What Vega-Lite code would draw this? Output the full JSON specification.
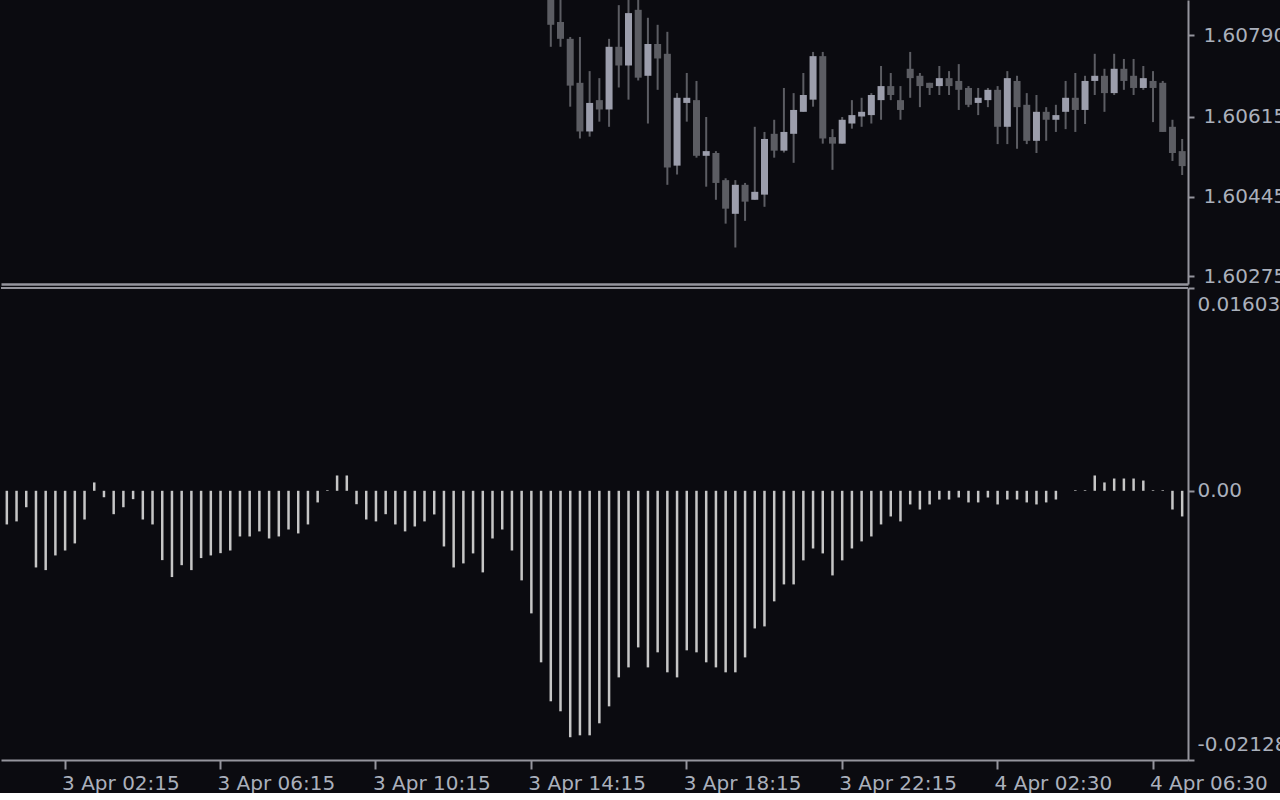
{
  "$schema": "https://vega.github.io/schema/vega-lite/v6.json",
  "background": "#0b0b10",
  "padding": 0,
  "spacing": 4,
  "bounds": "flush",
  "config": {
    "view": {"stroke": null},
    "font": "DejaVu Sans",
    "axis": {
      "labelFont": "DejaVu Sans",
      "labelFontSize": 20,
      "labelColor": "#aab0bc",
      "domainColor": "#95959d",
      "tickColor": "#95959d",
      "grid": false,
      "title": null,
      "labelOverlap": false,
      "labelBound": false
    }
  },
  "resolve": {"scale": {"x": "shared", "y": "independent"}, "axis": {"x": "independent", "y": "independent"}},
  "data": {"values": [
    {"t": "3 Apr 00:45", "m": -0.00266},
    {"t": "3 Apr 01:00", "m": -0.00242},
    {"t": "3 Apr 01:15", "m": -0.00130},
    {"t": "3 Apr 01:30", "m": -0.00606},
    {"t": "3 Apr 01:45", "m": -0.00627},
    {"t": "3 Apr 02:00", "m": -0.00511},
    {"t": "3 Apr 02:15", "m": -0.00472},
    {"t": "3 Apr 02:30", "m": -0.00416},
    {"t": "3 Apr 02:45", "m": -0.00227},
    {"t": "3 Apr 03:00", "m": 0.00066},
    {"t": "3 Apr 03:15", "m": -0.00051},
    {"t": "3 Apr 03:30", "m": -0.00185},
    {"t": "3 Apr 03:45", "m": -0.00130},
    {"t": "3 Apr 04:00", "m": -0.00066},
    {"t": "3 Apr 04:15", "m": -0.00227},
    {"t": "3 Apr 04:30", "m": -0.00266},
    {"t": "3 Apr 04:45", "m": -0.00548},
    {"t": "3 Apr 05:00", "m": -0.00682},
    {"t": "3 Apr 05:15", "m": -0.00588},
    {"t": "3 Apr 05:30", "m": -0.00627},
    {"t": "3 Apr 05:45", "m": -0.00532},
    {"t": "3 Apr 06:00", "m": -0.00511},
    {"t": "3 Apr 06:15", "m": -0.00493},
    {"t": "3 Apr 06:30", "m": -0.00472},
    {"t": "3 Apr 06:45", "m": -0.00361},
    {"t": "3 Apr 07:00", "m": -0.00361},
    {"t": "3 Apr 07:15", "m": -0.00321},
    {"t": "3 Apr 07:30", "m": -0.00377},
    {"t": "3 Apr 07:45", "m": -0.00361},
    {"t": "3 Apr 08:00", "m": -0.00306},
    {"t": "3 Apr 08:15", "m": -0.00337},
    {"t": "3 Apr 08:30", "m": -0.00266},
    {"t": "3 Apr 08:45", "m": -0.00092},
    {"t": "3 Apr 09:00", "m": 0.00005},
    {"t": "3 Apr 09:15", "m": 0.00121},
    {"t": "3 Apr 09:30", "m": 0.00121},
    {"t": "3 Apr 09:45", "m": -0.00106},
    {"t": "3 Apr 10:00", "m": -0.00227},
    {"t": "3 Apr 10:15", "m": -0.00242},
    {"t": "3 Apr 10:30", "m": -0.00185},
    {"t": "3 Apr 10:45", "m": -0.00266},
    {"t": "3 Apr 11:00", "m": -0.00321},
    {"t": "3 Apr 11:15", "m": -0.00282},
    {"t": "3 Apr 11:30", "m": -0.00242},
    {"t": "3 Apr 11:45", "m": -0.00187},
    {"t": "3 Apr 12:00", "m": -0.00440},
    {"t": "3 Apr 12:15", "m": -0.00606},
    {"t": "3 Apr 12:30", "m": -0.00574},
    {"t": "3 Apr 12:45", "m": -0.00495},
    {"t": "3 Apr 13:00", "m": -0.00645},
    {"t": "3 Apr 13:15", "m": -0.00377},
    {"t": "3 Apr 13:30", "m": -0.00306},
    {"t": "3 Apr 13:45", "m": -0.00472},
    {"t": "3 Apr 14:00", "m": -0.00708},
    {"t": "3 Apr 14:15", "m": -0.00969},
    {"t": "3 Apr 14:30", "m": -0.01356},
    {"t": "3 Apr 14:45", "o": 1.60880, "h": 1.60895, "l": 1.60765, "c": 1.60812, "m": -0.01664},
    {"t": "3 Apr 15:00", "o": 1.60818, "h": 1.60876, "l": 1.60765, "c": 1.60782, "m": -0.01743},
    {"t": "3 Apr 15:15", "o": 1.60782, "h": 1.60786, "l": 1.60637, "c": 1.60682, "m": -0.01948},
    {"t": "3 Apr 15:30", "o": 1.60688, "h": 1.60786, "l": 1.60569, "c": 1.60584, "m": -0.01933},
    {"t": "3 Apr 15:45", "o": 1.60584, "h": 1.60713, "l": 1.60573, "c": 1.60645, "m": -0.01933},
    {"t": "3 Apr 16:00", "o": 1.60651, "h": 1.60698, "l": 1.60605, "c": 1.60631, "m": -0.01838},
    {"t": "3 Apr 16:15", "o": 1.60631, "h": 1.60782, "l": 1.60594, "c": 1.60765, "m": -0.01704},
    {"t": "3 Apr 16:30", "o": 1.60765, "h": 1.60854, "l": 1.60678, "c": 1.60725, "m": -0.01475},
    {"t": "3 Apr 16:45", "o": 1.60725, "h": 1.60875, "l": 1.60652, "c": 1.60837, "m": -0.01396},
    {"t": "3 Apr 17:00", "o": 1.60844, "h": 1.60880, "l": 1.60693, "c": 1.60699, "m": -0.01238},
    {"t": "3 Apr 17:15", "o": 1.60703, "h": 1.60827, "l": 1.60601, "c": 1.60771, "m": -0.01396},
    {"t": "3 Apr 17:30", "o": 1.60771, "h": 1.60812, "l": 1.60673, "c": 1.60740, "m": -0.01277},
    {"t": "3 Apr 17:45", "o": 1.60750, "h": 1.60797, "l": 1.60470, "c": 1.60507, "m": -0.01435},
    {"t": "3 Apr 18:00", "o": 1.60511, "h": 1.60666, "l": 1.60492, "c": 1.60656, "m": -0.01475},
    {"t": "3 Apr 18:15", "o": 1.60645, "h": 1.60709, "l": 1.60605, "c": 1.60656, "m": -0.01261},
    {"t": "3 Apr 18:30", "o": 1.60651, "h": 1.60692, "l": 1.60528, "c": 1.60532, "m": -0.01277},
    {"t": "3 Apr 18:45", "o": 1.60532, "h": 1.60615, "l": 1.60466, "c": 1.60542, "m": -0.01356},
    {"t": "3 Apr 19:00", "o": 1.60538, "h": 1.60542, "l": 1.60438, "c": 1.60474, "m": -0.01396},
    {"t": "3 Apr 19:15", "o": 1.60480, "h": 1.60484, "l": 1.60387, "c": 1.60419, "m": -0.01435},
    {"t": "3 Apr 19:30", "o": 1.60408, "h": 1.60480, "l": 1.60336, "c": 1.60470, "m": -0.01435},
    {"t": "3 Apr 19:45", "o": 1.60470, "h": 1.60474, "l": 1.60393, "c": 1.60434, "m": -0.01317},
    {"t": "3 Apr 20:00", "o": 1.60438, "h": 1.60594, "l": 1.60438, "c": 1.60455, "m": -0.01088},
    {"t": "3 Apr 20:15", "o": 1.60449, "h": 1.60583, "l": 1.60423, "c": 1.60568, "m": -0.01072},
    {"t": "3 Apr 20:30", "o": 1.60579, "h": 1.60609, "l": 1.60528, "c": 1.60543, "m": -0.00874},
    {"t": "3 Apr 20:45", "o": 1.60543, "h": 1.60677, "l": 1.60539, "c": 1.60583, "m": -0.00740},
    {"t": "3 Apr 21:00", "o": 1.60579, "h": 1.60666, "l": 1.60517, "c": 1.60630, "m": -0.00740},
    {"t": "3 Apr 21:15", "o": 1.60626, "h": 1.60709, "l": 1.60626, "c": 1.60662, "m": -0.00550},
    {"t": "3 Apr 21:30", "o": 1.60652, "h": 1.60754, "l": 1.60637, "c": 1.60745, "m": -0.00456},
    {"t": "3 Apr 21:45", "o": 1.60745, "h": 1.60754, "l": 1.60558, "c": 1.60569, "m": -0.00495},
    {"t": "3 Apr 22:00", "o": 1.60572, "h": 1.60589, "l": 1.60502, "c": 1.60558, "m": -0.00669},
    {"t": "3 Apr 22:15", "o": 1.60558, "h": 1.60615, "l": 1.60558, "c": 1.60609, "m": -0.00550},
    {"t": "3 Apr 22:30", "o": 1.60601, "h": 1.60651, "l": 1.60590, "c": 1.60619, "m": -0.00456},
    {"t": "3 Apr 22:45", "o": 1.60616, "h": 1.60656, "l": 1.60594, "c": 1.60626, "m": -0.00400},
    {"t": "3 Apr 23:00", "o": 1.60619, "h": 1.60666, "l": 1.60601, "c": 1.60662, "m": -0.00361},
    {"t": "3 Apr 23:15", "o": 1.60651, "h": 1.60724, "l": 1.60609, "c": 1.60681, "m": -0.00266},
    {"t": "3 Apr 23:30", "o": 1.60681, "h": 1.60709, "l": 1.60651, "c": 1.60662, "m": -0.00203},
    {"t": "3 Apr 23:45", "o": 1.60651, "h": 1.60681, "l": 1.60609, "c": 1.60630, "m": -0.00242},
    {"t": "4 Apr 00:15", "o": 1.60718, "h": 1.60754, "l": 1.60656, "c": 1.60698, "m": -0.00108},
    {"t": "4 Apr 00:30", "o": 1.60703, "h": 1.60709, "l": 1.60636, "c": 1.60681, "m": -0.00148},
    {"t": "4 Apr 00:45", "o": 1.60688, "h": 1.60688, "l": 1.60662, "c": 1.60677, "m": -0.00108},
    {"t": "4 Apr 01:00", "o": 1.60681, "h": 1.60724, "l": 1.60662, "c": 1.60698, "m": -0.00069},
    {"t": "4 Apr 01:15", "o": 1.60698, "h": 1.60713, "l": 1.60662, "c": 1.60681, "m": -0.00069},
    {"t": "4 Apr 01:30", "o": 1.60692, "h": 1.60728, "l": 1.60630, "c": 1.60673, "m": -0.00053},
    {"t": "4 Apr 01:45", "o": 1.60677, "h": 1.60681, "l": 1.60636, "c": 1.60641, "m": -0.00092},
    {"t": "4 Apr 02:00", "o": 1.60645, "h": 1.60677, "l": 1.60619, "c": 1.60656, "m": -0.00092},
    {"t": "4 Apr 02:15", "o": 1.60651, "h": 1.60677, "l": 1.60636, "c": 1.60673, "m": -0.00053},
    {"t": "4 Apr 02:30", "o": 1.60673, "h": 1.60681, "l": 1.60557, "c": 1.60594, "m": -0.00108},
    {"t": "4 Apr 02:45", "o": 1.60594, "h": 1.60713, "l": 1.60557, "c": 1.60698, "m": -0.00069},
    {"t": "4 Apr 03:00", "o": 1.60692, "h": 1.60703, "l": 1.60547, "c": 1.60636, "m": -0.00069},
    {"t": "4 Apr 03:15", "o": 1.60641, "h": 1.60666, "l": 1.60557, "c": 1.60564, "m": -0.00092},
    {"t": "4 Apr 03:30", "o": 1.60564, "h": 1.60662, "l": 1.60538, "c": 1.60626, "m": -0.00108},
    {"t": "4 Apr 03:45", "o": 1.60626, "h": 1.60636, "l": 1.60564, "c": 1.60609, "m": -0.00092},
    {"t": "4 Apr 04:00", "o": 1.60609, "h": 1.60641, "l": 1.60583, "c": 1.60619, "m": -0.00069},
    {"t": "4 Apr 04:15", "o": 1.60626, "h": 1.60692, "l": 1.60589, "c": 1.60656, "m": 0},
    {"t": "4 Apr 04:30", "o": 1.60656, "h": 1.60709, "l": 1.60583, "c": 1.60630, "m": 0.00005},
    {"t": "4 Apr 04:45", "o": 1.60630, "h": 1.60703, "l": 1.60600, "c": 1.60692, "m": 0.00005},
    {"t": "4 Apr 05:00", "o": 1.60692, "h": 1.60750, "l": 1.60662, "c": 1.60703, "m": 0.00121},
    {"t": "4 Apr 05:15", "o": 1.60703, "h": 1.60718, "l": 1.60626, "c": 1.60666, "m": 0.00066},
    {"t": "4 Apr 05:30", "o": 1.60666, "h": 1.60750, "l": 1.60662, "c": 1.60718, "m": 0.00097},
    {"t": "4 Apr 05:45", "o": 1.60718, "h": 1.60739, "l": 1.60673, "c": 1.60692, "m": 0.00097},
    {"t": "4 Apr 06:00", "o": 1.60703, "h": 1.60739, "l": 1.60662, "c": 1.60677, "m": 0.00097},
    {"t": "4 Apr 06:15", "o": 1.60677, "h": 1.60724, "l": 1.60673, "c": 1.60698, "m": 0.00081},
    {"t": "4 Apr 06:30", "o": 1.60692, "h": 1.60713, "l": 1.60604, "c": 1.60677, "m": 0.00005},
    {"t": "4 Apr 06:45", "o": 1.60688, "h": 1.60692, "l": 1.60583, "c": 1.60583, "m": 0.00005},
    {"t": "4 Apr 07:00", "o": 1.60594, "h": 1.60609, "l": 1.60521, "c": 1.60538, "m": -0.00148},
    {"t": "4 Apr 07:15", "o": 1.60542, "h": 1.60568, "l": 1.60491, "c": 1.60510, "m": -0.00203}
  ]},
  "vconcat": [
    {
      "width": 1187,
      "height": 284,
      "transform": [{"filter": "isValid(datum.o)"}],
      "encoding": {
        "x": {
          "field": "t", "type": "ordinal", "sort": "ascending",
          "scale": {"type": "band", "paddingInner": 0, "paddingOuter": 0.1},
          "axis": {"orient": "bottom", "labels": false, "ticks": false, "domain": true, "domainWidth": 2.5}
        }
      },
      "layer": [
        {
          "mark": {"type": "rule", "strokeWidth": 2, "color": "#5c5d63", "clip": true},
          "encoding": {
            "y": {
              "field": "l", "type": "quantitative",
              "scale": {"domain": [1.60258, 1.60865], "nice": false, "zero": false},
              "axis": {"orient": "right", "values": [1.6079, 1.60615, 1.60445, 1.60275], "format": ".5f", "tickSize": 6, "tickWidth": 2, "domainWidth": 2, "labelPadding": 9, "labelBaseline": "middle", "labelAlign": "left"}
            },
            "y2": {"field": "h"}
          }
        },
        {
          "mark": {"type": "bar", "size": 7, "clip": true},
          "encoding": {
            "y": {"field": "o", "type": "quantitative"},
            "y2": {"field": "c"},
            "color": {"condition": {"test": "datum.c >= datum.o", "value": "#9c9eac"}, "value": "#5c5d63"}
          }
        }
      ]
    },
    {
      "width": 1187,
      "height": 472,
      "layer": [
        {
          "mark": {"type": "bar", "size": 2.5, "color": "#c6c6c6"},
          "encoding": {
            "x": {
              "field": "t", "type": "ordinal", "sort": "ascending",
              "scale": {"type": "band", "paddingInner": 0, "paddingOuter": 0.1},
              "axis": {
                "orient": "bottom",
                "values": ["3 Apr 02:15", "3 Apr 06:15", "3 Apr 10:15", "3 Apr 14:15", "3 Apr 18:15", "3 Apr 22:15", "4 Apr 02:30", "4 Apr 06:30"],
                "bandPosition": 0.5,
                "labelAngle": 0,
                "labelAlign": "left",
                "labelBaseline": "top",
                "labelOffset": -3,
                "labelPadding": 4,
                "tickSize": 9,
                "tickWidth": 2,
                "domainWidth": 2
              }
            },
            "y": {
              "field": "m", "type": "quantitative",
              "scale": {"domain": [-0.02128, 0.01603], "nice": false},
              "axis": {
                "orient": "right",
                "values": [0.01603, 0, -0.02128],
                "labelExpr": "datum.value == 0 ? '0.00' : replace(format(datum.value, '.5f'), '\u2212', '-')",
                "labelFlush": true,
                "labelFlushOffset": -6,
                "labelAlign": "left",
                "labelPadding": 3,
                "tickSize": 6,
                "tickWidth": 2,
                "domainWidth": 2
              }
            }
          }
        },
        {
          "mark": {"type": "rule", "strokeWidth": 1.5, "color": "#95959d"},
          "encoding": {"y": {"datum": 0.01603}}
        }
      ]
    }
  ]
}
